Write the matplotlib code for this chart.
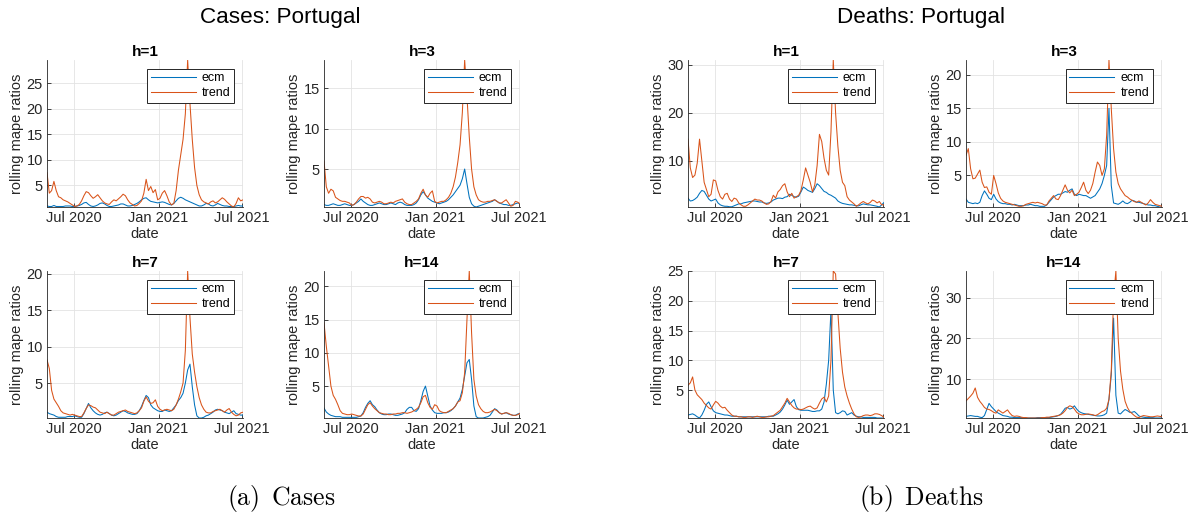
import matplotlib
matplotlib.use('Agg')
import matplotlib.pyplot as plt
import matplotlib.dates as mdates
from matplotlib.ticker import MultipleLocator
import pandas as pd

plt.rcParams['font.family'] = ['Liberation Sans', 'DejaVu Sans']
plt.rcParams['mathtext.fontset'] = 'cm'

# every 5th day
dates = pd.date_range('2020-05-04', periods=86, freq='5D')

horizons = ['h=1', 'h=3', 'h=7', 'h=14']

# ---- cases ----
cases_ecm_h1 = [1.0, 0.9, 0.9, 1.1, 0.9, 0.9, 0.9, 0.9, 1.0, 1.0,
                1.0, 0.9, 0.9, 1.0, 1.1, 1.3, 1.6, 1.7, 1.3, 1.0,
                0.9, 1.0, 1.2, 1.5, 1.6, 1.4, 1.1, 0.9, 0.9, 1.0,
                1.1, 1.2, 1.4, 1.4, 1.2, 1.0, 1.0, 1.1, 1.3, 1.5,
                1.8, 2.2, 2.5, 2.6, 2.2, 1.9, 1.8, 1.7, 1.6, 1.7,
                1.8, 1.7, 1.5, 1.3, 1.2, 1.5, 2.0, 2.5, 2.7, 2.5,
                2.2, 2.0, 1.8, 1.6, 1.4, 1.2, 1.0, 1.0, 1.2, 1.5,
                1.4, 1.1, 1.0, 1.2, 1.5, 1.3, 1.1, 1.0, 1.0, 0.9,
                0.9, 0.9, 1.0, 1.1, 1.0, 1.0]
cases_trend_h1 = [7.5, 3.5, 4.0, 5.8, 4.0, 2.8, 2.6, 2.2, 2.0, 1.8,
                  1.5, 1.2, 0.9, 1.0, 1.3, 2.0, 3.0, 3.8, 3.6, 3.0,
                  2.5, 2.8, 3.2, 2.6, 2.0, 1.6, 1.4, 1.3, 1.8, 2.2,
                  2.0, 2.4, 2.8, 3.3, 3.0, 2.2, 1.6, 1.3, 1.0, 1.1,
                  1.5, 2.0, 3.5, 6.2, 4.0, 4.8, 3.6, 4.2, 2.2, 2.5,
                  3.5, 4.0, 3.0, 1.8, 1.2, 1.5, 4.0, 8.0, 11.0, 14.0,
                  19.0, 29.5, 21.0, 14.0, 8.5, 5.0, 3.2, 2.2, 1.8, 1.6,
                  1.4, 1.8, 2.0, 1.6, 1.8, 2.2, 2.6, 2.3, 1.8, 1.4,
                  1.0, 0.8, 1.5, 2.6, 2.0, 2.2]

cases_ecm_h3 = [0.6, 0.5, 0.5, 0.6, 0.7, 0.6, 0.5, 0.5, 0.6, 0.7,
                0.6, 0.5, 0.5, 0.6, 0.8, 1.0, 1.3, 1.0, 0.8, 0.6,
                0.5, 0.5, 0.6, 0.7, 0.8, 0.7, 0.6, 0.6, 0.7, 0.8,
                0.7, 0.6, 0.8, 0.9, 0.8, 0.6, 0.5, 0.5, 0.5, 0.6,
                0.8, 1.2, 1.8, 2.2, 1.8, 1.4, 1.2, 1.0, 0.9, 0.8,
                0.7, 0.8, 0.9, 1.0, 1.2, 1.5, 1.8, 2.2, 2.6, 3.0,
                3.8, 5.0, 3.2, 1.5, 0.7, 0.4, 0.3, 0.4, 0.5, 0.6,
                0.7, 0.8, 0.9, 1.0, 1.2, 1.0, 0.8, 0.7, 0.6, 0.6,
                0.5, 0.5, 0.6, 0.7, 0.8, 0.7]
cases_trend_h3 = [6.0, 2.8, 2.0, 2.5, 2.3, 1.5, 1.3, 1.1, 1.0, 1.0,
                  0.9, 0.8, 0.5, 0.6, 0.9, 1.3, 1.6, 1.6, 1.4, 1.5,
                  1.3, 0.9, 0.8, 0.9, 1.0, 0.9, 0.7, 0.7, 0.8, 0.9,
                  0.8, 1.0, 1.1, 1.2, 1.3, 0.9, 0.7, 0.6, 0.6, 0.8,
                  1.0, 1.3, 2.0, 2.5, 1.8, 1.5, 2.0, 2.3, 1.0, 0.8,
                  0.9, 1.0, 1.0, 1.2, 1.5, 2.0, 2.8, 4.0, 5.8, 8.0,
                  12.0, 18.5, 14.0, 9.0, 5.0, 2.8, 1.8, 1.2, 1.0, 0.9,
                  0.9, 1.0, 1.0, 1.1, 1.2, 1.0, 0.8, 0.8, 1.0, 1.2,
                  0.8, 0.4, 0.5, 1.0, 0.9, 0.7]

cases_ecm_h7 = [1.0, 0.8, 0.7, 0.6, 0.4, 0.3, 0.3, 0.3, 0.3, 0.4,
                0.4, 0.4, 0.5, 0.4, 0.3, 0.3, 0.8, 1.5, 2.2, 1.6,
                1.2, 0.9, 0.7, 0.6, 0.7, 0.9, 1.0, 0.8, 0.6, 0.5,
                0.6, 0.8, 1.0, 1.2, 1.1, 0.9, 0.8, 0.7, 0.7, 0.8,
                1.2, 1.8, 2.6, 3.3, 3.0, 2.0, 1.6, 1.4, 1.2, 1.1,
                1.1, 1.3, 1.2, 1.1, 1.2, 1.6, 2.0, 2.6, 3.0, 3.6,
                5.0, 6.8, 7.6, 4.5, 2.0, 0.5, 0.2, 0.2, 0.3, 0.5,
                0.6, 0.8, 1.0, 1.3, 1.4, 1.3, 1.2, 1.0, 0.9, 0.8,
                1.0, 1.2, 0.8, 0.7, 0.6, 0.6]
cases_trend_h7 = [8.2, 7.0, 4.0, 2.8, 2.3, 1.8, 1.2, 0.9, 0.8, 0.7,
                  0.6, 0.7, 0.6, 0.5, 0.4, 0.4, 0.9, 1.5, 2.0, 1.9,
                  1.7, 1.6, 1.3, 1.0, 0.9, 0.8, 1.0, 0.8, 0.6, 0.6,
                  0.8, 1.0, 1.1, 1.2, 1.3, 1.1, 1.0, 0.9, 0.8, 0.9,
                  1.2, 1.6, 2.5, 3.1, 2.5, 2.2, 2.3, 2.7, 1.8, 1.4,
                  1.2, 1.3, 1.4, 1.3, 1.2, 1.4, 2.0, 2.8, 3.8, 5.0,
                  9.5, 20.4, 14.0, 9.0, 6.5, 4.5, 3.0, 2.0, 1.4, 1.0,
                  0.9, 0.9, 1.1, 1.2, 1.3, 1.4, 1.2, 1.0, 1.3, 1.5,
                  1.0, 0.7, 0.5, 0.6, 0.9, 1.0]

cases_ecm_h14 = [1.7, 1.1, 0.8, 0.6, 0.5, 0.4, 0.4, 0.4, 0.3, 0.3,
                 0.3, 0.3, 0.3, 0.3, 0.3, 0.4, 0.5, 1.0, 1.8, 2.4,
                 2.8, 2.2, 1.9, 1.4, 1.0, 0.8, 0.7, 0.7, 0.8, 0.8,
                 0.7, 0.6, 0.6, 0.7, 0.8, 1.0, 1.5, 1.8, 1.8, 1.3,
                 1.2, 1.6, 2.8, 4.2, 5.0, 3.5, 2.0, 1.4, 1.0, 0.9,
                 0.9, 0.9, 1.0, 1.0, 1.1, 1.3, 1.6, 2.0, 2.6, 3.2,
                 4.5, 6.5, 8.5, 9.0, 6.0, 2.0, 0.4, 0.2, 0.2, 0.2,
                 0.3, 0.4, 0.6, 1.1, 1.6, 1.4, 1.0, 0.8, 0.9, 1.0,
                 0.8, 0.7, 0.6, 0.6, 0.8, 0.9]
cases_trend_h14 = [14.5, 11.0, 8.0, 5.0, 3.6, 3.0, 2.2, 1.3, 0.9, 0.8,
                   0.7, 0.7, 0.8, 0.7, 0.6, 0.5, 0.5, 0.8, 1.5, 2.2,
                   2.5, 2.0, 1.6, 1.3, 1.0, 0.9, 0.8, 0.8, 0.7, 0.7,
                   0.8, 0.8, 0.9, 0.9, 1.0, 1.0, 0.9, 1.0, 1.1, 1.3,
                   1.5, 1.8, 2.5, 3.4, 3.6, 2.5, 1.8, 1.5, 2.2, 2.0,
                   1.3, 1.1, 1.0, 1.0, 1.2, 1.4, 1.6, 2.0, 2.6, 2.8,
                   4.0, 7.0, 15.0, 22.3, 13.0, 6.0, 3.5, 2.2, 1.6, 1.2,
                   1.0, 1.0, 1.1, 1.3, 1.5, 1.3, 1.0, 0.8, 0.9, 1.0,
                   0.9, 0.7, 0.6, 0.6, 0.7, 0.9]

# ---- deaths ----
deaths_ecm_h1 = [2.2, 1.6, 1.7, 2.0, 2.4, 3.2, 3.8, 3.6, 2.8, 2.0,
                 1.6, 1.8, 2.0, 1.2, 0.8, 0.6, 0.5, 0.5, 0.4, 0.4,
                 0.6, 0.8, 1.0, 1.0, 1.2, 1.3, 1.4, 1.5, 1.6, 1.6,
                 1.5, 1.4, 1.4, 1.2, 1.1, 1.2, 1.4, 1.8, 2.0, 2.2,
                 2.2, 2.1, 2.4, 2.5, 3.0, 2.8, 2.5, 2.4, 2.6, 3.5,
                 4.5, 4.2, 3.8, 3.6, 3.4, 4.2, 5.2, 4.8, 4.2, 3.6,
                 3.4, 3.0, 2.8, 2.5, 2.2, 1.6, 1.3, 1.1, 1.0, 0.9,
                 0.8, 0.8, 0.7, 0.6, 0.6, 0.8, 1.0, 0.9, 0.8, 0.8,
                 0.7, 0.6, 0.5, 0.35, 0.8, 1.3]
deaths_trend_h1 = [14.5, 8.5, 6.5, 7.0, 9.5, 14.5, 10.0, 5.5, 4.0, 2.5,
                   3.0, 6.0, 5.8, 3.8, 2.5, 2.0, 3.0, 3.2, 2.0, 1.5,
                   2.2, 2.0, 1.2, 0.8, 0.5, 0.5, 0.8, 1.2, 1.6, 2.0,
                   1.8, 1.8, 1.6, 1.2, 0.9, 1.0, 1.5, 2.8, 2.2, 3.5,
                   4.0, 4.8, 5.2, 3.5, 2.5, 3.2, 2.2, 2.5, 2.8, 3.8,
                   6.0, 8.5, 7.0, 5.5, 3.5, 5.0, 9.0, 15.5, 14.0, 10.5,
                   8.0, 7.0, 16.0, 31.0, 20.0, 13.0, 8.0, 5.5, 4.8, 2.5,
                   1.8, 1.4, 1.0, 0.5, 0.8, 1.2, 1.5, 1.2, 1.0, 1.3,
                   1.8, 1.6, 1.2, 1.5, 0.8, 0.8]

deaths_ecm_h3 = [1.5, 1.0, 0.9, 0.8, 0.9, 0.8, 1.0, 2.0, 2.7, 2.2,
                 1.6, 1.4, 2.2, 1.5, 1.1, 0.9, 0.8, 0.8, 0.7, 0.7,
                 0.6, 0.7, 0.6, 0.5, 0.5, 0.5, 0.6, 0.6, 0.7, 0.6,
                 0.5, 0.5, 0.4, 0.4, 0.4, 0.6, 1.0, 1.4, 1.8, 2.0,
                 2.2, 2.2, 2.4, 2.6, 2.5, 2.8, 3.0, 2.2, 2.0, 2.2,
                 2.1, 2.0, 2.0, 1.8, 1.6, 1.8, 2.0, 2.5, 3.0, 3.8,
                 5.0, 6.5, 15.0, 3.5, 0.9, 0.8, 0.7, 0.9, 1.2, 0.9,
                 0.8, 1.0, 1.3, 1.2, 1.0, 1.0, 0.9, 0.8, 0.7, 0.6,
                 0.6, 0.5, 0.5, 0.4, 0.3, 0.3]
deaths_trend_h3 = [8.0, 9.0, 6.0, 4.5, 4.6, 5.2, 5.8, 4.0, 3.2, 3.3,
                   2.5, 2.2, 5.0, 3.8, 2.4, 1.6, 1.2, 1.0, 0.9, 0.8,
                   0.7, 0.6, 0.5, 0.4, 0.4, 0.5, 0.7, 0.8, 0.9, 1.0,
                   0.9, 1.0, 0.9, 0.8, 0.6, 0.6, 1.2, 1.6, 2.0, 1.5,
                   1.4, 2.0, 2.8, 3.6, 2.8, 2.4, 2.8, 2.0, 2.2, 2.5,
                   3.2, 4.0, 2.8, 2.3, 2.8, 3.8, 5.5, 7.0, 6.5, 5.0,
                   6.0, 11.0, 22.2, 15.0, 9.0, 5.5, 3.8, 3.0, 2.5, 2.0,
                   1.8, 1.5, 1.3, 1.1, 1.0, 1.2, 1.0, 0.8, 0.6, 0.9,
                   1.4, 1.0, 0.7, 0.6, 0.5, 0.4]

deaths_ecm_h7 = [0.8, 0.9, 1.0, 0.8, 0.5, 0.3, 0.8, 1.6, 2.6, 3.0,
                 2.2, 1.5, 1.2, 1.1, 1.0, 0.9, 0.8, 0.8, 0.7, 0.6,
                 0.6, 0.6, 0.5, 0.5, 0.5, 0.5, 0.5, 0.5, 0.5, 0.5,
                 0.5, 0.5, 0.5, 0.5, 0.5, 0.6, 0.6, 0.6, 0.8, 1.0,
                 1.3, 1.8, 2.5, 3.3, 2.6, 3.0, 3.4, 2.2, 1.7, 1.6,
                 1.6, 1.6, 1.6, 1.5, 1.4, 1.4, 1.5, 1.5, 1.8, 3.0,
                 6.0, 10.0, 18.5, 5.0, 1.2, 1.0, 1.2, 1.5, 1.4, 0.8,
                 1.0, 1.2, 0.8, 0.6, 0.5, 0.5, 0.4, 0.4, 0.4, 0.4,
                 0.4, 0.4, 0.3, 0.3, 0.3, 0.3]
deaths_trend_h7 = [5.8, 6.2, 7.2, 5.0, 4.2, 3.8, 3.4, 2.8, 2.4, 2.0,
                   1.8, 2.5, 3.1, 2.8, 2.3, 2.0, 2.1, 1.6, 1.2, 0.8,
                   0.6, 0.6, 0.5, 0.5, 0.4, 0.4, 0.5, 0.5, 0.4, 0.5,
                   0.6, 0.5, 0.4, 0.4, 0.5, 0.5, 0.6, 0.7, 1.0, 1.3,
                   1.6, 2.2, 2.8, 3.6, 3.0, 2.4, 2.0, 1.8, 1.8, 1.7,
                   1.8, 2.0, 2.2, 2.3, 2.0, 1.8, 2.0, 2.8, 3.5, 3.8,
                   3.0, 4.0, 10.0, 25.0, 24.5, 18.0, 12.0, 8.0, 5.5, 4.0,
                   2.8, 1.8, 1.0, 0.5, 0.4, 0.5, 0.7, 0.8, 0.8, 0.7,
                   0.8, 1.0, 1.0, 0.9, 0.7, 0.4]

deaths_ecm_h14 = [0.8, 0.9, 1.0, 0.9, 0.8, 0.8, 0.6, 0.5, 1.0, 2.5,
                  4.0, 3.2, 2.6, 2.0, 1.6, 1.3, 1.0, 0.9, 0.8, 0.6,
                  0.6, 0.5, 0.5, 0.5, 0.5, 0.4, 0.4, 0.4, 0.4, 0.4,
                  0.4, 0.5, 0.5, 0.5, 0.5, 0.5, 0.5, 0.6, 0.7, 0.8,
                  1.0, 1.3, 2.0, 2.8, 3.0, 2.6, 2.8, 3.4, 2.6, 2.0,
                  1.7, 1.5, 1.4, 1.3, 1.2, 1.1, 1.0, 0.9, 0.9, 1.0,
                  1.2, 1.6, 5.0, 11.0, 25.0, 6.0, 1.6, 1.4, 2.0, 2.5,
                  2.2, 1.8, 1.8, 2.0, 1.5, 0.9, 0.7, 0.6, 0.5, 0.5,
                  0.5, 0.5, 0.4, 0.4, 0.4, 0.4]
deaths_trend_h14 = [4.6, 5.2, 5.8, 6.5, 7.8, 5.5, 4.5, 3.8, 3.0, 2.6,
                    2.5, 2.2, 1.8, 1.6, 2.4, 2.0, 1.6, 2.0, 2.4, 1.6,
                    1.0, 0.8, 0.9, 0.8, 0.6, 0.5, 0.5, 0.4, 0.4, 0.4,
                    0.4, 0.4, 0.4, 0.5, 0.5, 0.6, 0.6, 0.7, 0.8, 0.9,
                    1.0, 1.2, 1.6, 2.2, 3.0, 3.4, 3.2, 2.6, 1.8, 1.4,
                    1.2, 1.2, 1.3, 1.4, 1.3, 1.2, 1.0, 1.2, 1.6, 2.0,
                    2.2, 2.8, 5.0, 12.0, 30.0, 36.6, 20.0, 12.0, 7.5, 4.5,
                    3.0, 2.0, 1.5, 1.0, 0.6, 0.5, 0.8, 1.0, 0.9, 0.8,
                    0.7, 0.7, 0.8, 0.9, 0.8, 0.7]

cases_ecm = [cases_ecm_h1, cases_ecm_h3, cases_ecm_h7, cases_ecm_h14]
cases_trend = [cases_trend_h1, cases_trend_h3, cases_trend_h7, cases_trend_h14]
deaths_ecm = [deaths_ecm_h1, deaths_ecm_h3, deaths_ecm_h7, deaths_ecm_h14]
deaths_trend = [deaths_trend_h1, deaths_trend_h3, deaths_trend_h7, deaths_trend_h14]

# matlab default colours
ECM_COLOR = '#0072BD'
TREND_COLOR = '#D95319'
INK = '#262626'

W, H = 1195, 517


def draw_panel(ax, ecm, trend, title, ystep):
    ax.plot(dates, ecm, color=ECM_COLOR, lw=0.75, label='ecm')
    ax.plot(dates, trend, color=TREND_COLOR, lw=0.75, label='trend')
    # like matlab "axis tight"
    ax.set_ylim(min(min(ecm), min(trend)), max(max(ecm), max(trend)))
    ax.set_xlim(pd.Timestamp('2020-05-04'), pd.Timestamp('2021-07-03'))
    ax.xaxis.set_major_locator(mdates.MonthLocator(bymonth=[1, 7]))
    ax.xaxis.set_major_formatter(mdates.DateFormatter('%b %Y'))
    ax.yaxis.set_major_locator(MultipleLocator(ystep))
    ax.grid(True, color='#E3E3E3', lw=0.6)
    ax.set_axisbelow(True)
    for s in ['top', 'right']:
        ax.spines[s].set_visible(False)
    for s in ['left', 'bottom']:
        ax.spines[s].set_color(INK)
        ax.spines[s].set_linewidth(0.6)
    ax.tick_params(direction='in', length=3, width=0.6, labelsize=10.5,
                   colors=INK, pad=3)
    ax.set_title(title, fontsize=11, fontweight='bold', pad=3)
    ax.set_xlabel('date', fontsize=10.5, labelpad=1, color=INK)
    ax.set_ylabel('rolling mape ratios', fontsize=10.5, labelpad=2, color=INK)
    leg = ax.legend(loc='upper right', fontsize=9, handlelength=3.6,
                    fancybox=False, framealpha=1, edgecolor=INK,
                    borderaxespad=0.7, borderpad=0.3, labelspacing=0.2,
                    handletextpad=0.5)
    leg.get_frame().set_linewidth(0.7)


fig = plt.figure(figsize=(W / 100, H / 100), dpi=100)

# panel boxes in pixels: left edges, top edges
col_left = [47, 324, 688, 966]
row_top = [60, 271]
pw, ph = 196, 147

groups = [(cases_ecm, cases_trend, [5, 5, 5, 5], 0),
          (deaths_ecm, deaths_trend, [10, 5, 5, 10], 2)]

for ecm_list, trend_list, steps, c0 in groups:
    for k in range(4):
        r, c = divmod(k, 2)
        left = col_left[c0 + c]
        top = row_top[r]
        ax = fig.add_axes([left / W, 1 - (top + ph) / H, pw / W, ph / H])
        draw_panel(ax, ecm_list[k], trend_list[k], horizons[k], steps[k])

fig.text(280 / W, 1 - 18 / H, 'Cases: Portugal', fontsize=16.2,
         ha='center', va='center')
fig.text(921 / W, 1 - 18 / H, 'Deaths: Portugal', fontsize=16.2,
         ha='center', va='center')

fig.text(281 / W, 1 - 498 / H, r'$\mathrm{(a)}\ \,\mathrm{Cases}$',
         fontsize=18.5, ha='center', va='center')
fig.text(921 / W, 1 - 498 / H, r'$\mathrm{(b)}\ \,\mathrm{Deaths}$',
         fontsize=18.5, ha='center', va='center')

fig.savefig('out.png', dpi=100)
